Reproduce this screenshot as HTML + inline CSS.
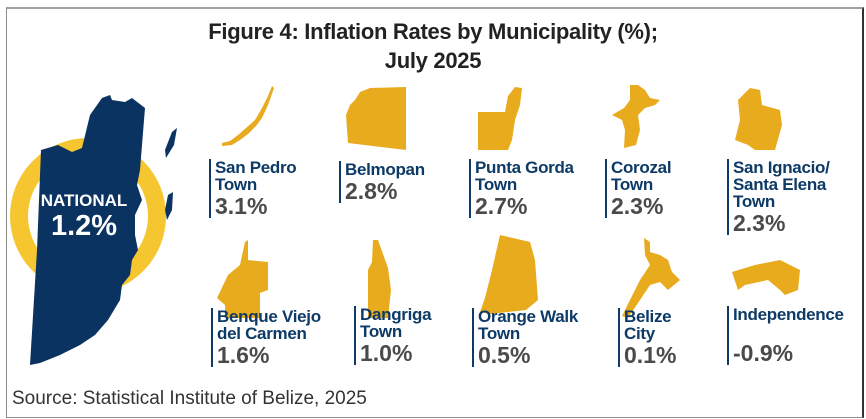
<!DOCTYPE html>
<html><head><meta charset="utf-8"><style>
body{margin:0;width:866px;height:419px;background:#fff;position:relative;overflow:hidden;font-family:"Liberation Sans",sans-serif}
.frame{position:absolute;left:6px;top:7px;width:855px;height:408px;border:1px solid #8c8c8c;border-top:2px solid #a0a0a0;border-right:2px solid #333}
.title{position:absolute;left:0;width:866px;top:17px;text-align:center;font-weight:bold;font-size:22px;line-height:29px;color:#222;letter-spacing:-0.3px}
.lab{position:absolute;border-left:2px solid #0d3a66;padding-left:4px}
.n{font-weight:bold;font-size:17px;line-height:17px;color:#0d3a66;letter-spacing:-0.3px}
.p{font-weight:bold;font-size:23px;line-height:24px;color:#4a4a4a;margin-top:1px}
.src{position:absolute;left:12px;top:388px;font-size:19px;color:#333}
svg{position:absolute;left:0;top:0}
</style></head><body>
<div class="frame"></div>
<div class="title">Figure 4: Inflation Rates by Municipality (%);<br>July 2025</div>
<svg width="866" height="419">
<circle cx="88" cy="216" r="69" fill="none" stroke="#f6c630" stroke-width="18"/>
<polygon fill="#0b3361" points="41,150 58,145 72,152 82,148 90,115 102,98 110,95 112,100 125,102 132,98 145,108 140,170 137,185 142,200 135,215 135,235 138,250 132,260 130,275 122,285 120,300 108,320 95,335 80,345 60,355 40,363 30,365 37,250"/>
<polygon fill="#0b3361" points="172,132 177,128 174,145 166,158 165,150"/>
<polygon fill="#0b3361" points="168,195 173,192 172,210 167,220 165,210"/>
<text x="84" y="206" text-anchor="middle" fill="#fff" font-weight="bold" font-size="17">NATIONAL</text>
<text x="84" y="235" text-anchor="middle" fill="#fff" font-weight="bold" font-size="29">1.2%</text>
<g fill="#e8ab1e">
<polygon points="272,86 274,88 268,105 262,118 256,126 248,134 240,140 232,145 222,146 222,143 230,141 238,135 246,128 255,120 262,108 268,96"/>
<polygon points="360,92 370,88 406,87 406,150 348,143 346,115 350,105 355,100"/>
<polygon points="478,112 505,112 508,96 515,87 522,88 520,105 515,120 512,140 508,150 478,150"/>
<polygon points="624,108 630,100 630,85 638,85 645,90 650,98 660,100 655,105 645,108 638,115 640,130 636,145 624,148 625,130 622,120 612,115"/>
<polygon points="738,100 750,88 760,90 762,105 780,110 782,125 775,150 755,150 748,145 735,140 740,120"/>
<polygon points="217,298 228,275 240,265 245,242 248,240 248,260 268,262 268,290 260,293 260,318 225,318 225,305"/>
<polygon points="373,240 378,240 388,268 391,290 388,318 368,318 368,270 372,262"/>
<polygon points="500,235 530,242 535,260 538,300 526,310 490,314 480,312 485,298 492,270"/>
<polygon points="644,238 650,242 650,252 660,255 668,260 672,272 680,280 668,290 660,282 650,285 640,300 628,318 622,316 640,280 650,265 645,255"/>
<polygon points="732,272 755,265 780,260 800,270 798,290 785,295 780,290 768,280 745,285 738,290"/>
</g>
</svg>
<div class="lab" style="left:209px;top:159px"><div class="n">San Pedro<br>Town</div><div class="p">3.1%</div></div>
<div class="lab" style="left:339px;top:161px"><div class="n">Belmopan</div><div class="p">2.8%</div></div>
<div class="lab" style="left:469px;top:159px"><div class="n">Punta Gorda<br>Town</div><div class="p">2.7%</div></div>
<div class="lab" style="left:605px;top:159px"><div class="n">Corozal<br>Town</div><div class="p">2.3%</div></div>
<div class="lab" style="left:727px;top:159px"><div class="n">San Ignacio/<br>Santa Elena<br>Town</div><div class="p">2.3%</div></div>
<div class="lab" style="left:211px;top:308px"><div class="n">Benque Viejo<br>del Carmen</div><div class="p">1.6%</div></div>
<div class="lab" style="left:354px;top:306px"><div class="n">Dangriga<br>Town</div><div class="p">1.0%</div></div>
<div class="lab" style="left:472px;top:308px"><div class="n">Orange Walk<br>Town</div><div class="p">0.5%</div></div>
<div class="lab" style="left:618px;top:308px"><div class="n">Belize<br>City</div><div class="p">0.1%</div></div>
<div class="lab" style="left:727px;top:306px"><div class="n">Independence</div><div class="p" style="margin-top:18px">-0.9%</div></div>
<div class="src">Source: Statistical Institute of Belize, 2025</div>
</body></html>
